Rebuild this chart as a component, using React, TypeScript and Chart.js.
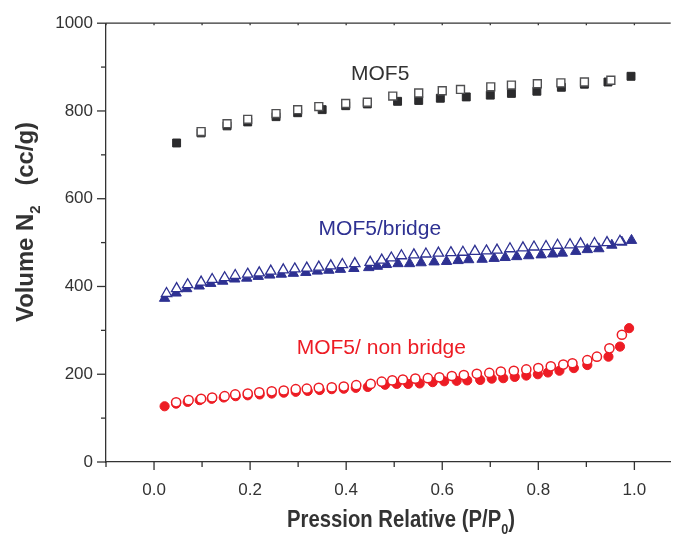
import React, { useEffect, useRef } from 'react';
import { Chart, registerables } from 'chart.js';

Chart.register(...registerables);

// ---- data ----
const mof5AdsX = [0.047, 0.098, 0.152, 0.195, 0.254, 0.299, 0.35, 0.399, 0.444, 0.507, 0.551, 0.596, 0.65, 0.70, 0.744, 0.797, 0.848, 0.896, 0.945, 0.993];
const mof5AdsY = [727, 750, 766, 775, 787, 796, 803, 812, 816, 822, 824, 829, 832, 836, 840, 845, 854, 861, 866, 879];
const mof5DesX = [0.098, 0.152, 0.195, 0.254, 0.299, 0.343, 0.399, 0.444, 0.497, 0.551, 0.60, 0.638, 0.701, 0.744, 0.798, 0.847, 0.896, 0.951];
const mof5DesY = [753, 771, 781, 794, 803, 810, 817, 820, 834, 841, 846, 849, 855, 859, 862, 864, 866, 870];

const bridgeAdsX = [0.022, 0.046, 0.068, 0.094, 0.118, 0.143, 0.168, 0.193, 0.217, 0.241, 0.265, 0.29, 0.316, 0.34, 0.364, 0.388, 0.416, 0.447, 0.465, 0.484, 0.508, 0.532, 0.556, 0.583, 0.609, 0.633, 0.655, 0.683, 0.708, 0.731, 0.755, 0.78, 0.806, 0.83, 0.85, 0.878, 0.902, 0.926, 0.953, 0.974, 0.994];
const bridgeAdsY = [373, 385, 395, 401, 407, 412, 417, 419, 423, 426, 428, 430, 432, 435, 437, 439, 441, 443, 446, 450, 452, 452, 454, 456, 457, 459, 461, 462, 464, 466, 468, 470, 472, 474, 476, 480, 484, 486, 494, 501, 505];
const bridgeDesX = [0.026, 0.047, 0.07, 0.098, 0.121, 0.147, 0.169, 0.195, 0.219, 0.243, 0.269, 0.293, 0.318, 0.343, 0.368, 0.392, 0.418, 0.45, 0.474, 0.494, 0.515, 0.541, 0.566, 0.592, 0.618, 0.643, 0.668, 0.692, 0.714, 0.741, 0.768, 0.791, 0.816, 0.84, 0.866, 0.888, 0.917, 0.943, 0.97];
const bridgeDesY = [384, 395, 404, 410, 416, 420, 425, 428, 431, 435, 438, 440, 442, 444, 447, 450, 452, 455, 460, 465, 470, 472, 474, 476, 477, 478, 480, 481, 483, 486, 488, 490, 491, 494, 495, 497, 498, 500, 503];

const nonAdsX = [0.022, 0.046, 0.07, 0.095, 0.12, 0.145, 0.17, 0.195, 0.22, 0.245, 0.27, 0.295, 0.32, 0.345, 0.37, 0.395, 0.42, 0.445, 0.481, 0.505, 0.529, 0.553, 0.58, 0.604, 0.63, 0.652, 0.679, 0.703, 0.727, 0.751, 0.775, 0.799, 0.82, 0.844, 0.874, 0.902, 0.946, 0.97, 0.989];
const nonAdsY = [127, 133, 137, 141, 144, 147, 150, 152, 154, 156, 158, 160, 162, 164, 166, 167, 169, 171, 176, 178, 178, 179, 182, 184, 185, 186, 187, 190, 191, 194, 197, 200, 204, 208, 214, 221, 240, 263, 305];
const nonDesX = [0.046, 0.072, 0.098, 0.121, 0.147, 0.169, 0.195, 0.219, 0.245, 0.27, 0.295, 0.318, 0.343, 0.37, 0.395, 0.421, 0.451, 0.474, 0.496, 0.518, 0.544, 0.57, 0.594, 0.62, 0.645, 0.672, 0.698, 0.722, 0.749, 0.775, 0.80, 0.826, 0.852, 0.871, 0.902, 0.922, 0.948, 0.974];
const nonDesY = [136, 141, 144, 147, 150, 154, 156, 159, 161, 163, 166, 167, 169, 170, 172, 175, 178, 183, 186, 188, 190, 191, 193, 196, 198, 201, 203, 206, 208, 211, 214, 218, 222, 225, 232, 240, 259, 290];

const xTickValues = [-0.1, 0, 0.1, 0.2, 0.3, 0.4, 0.5, 0.6, 0.7, 0.8, 0.9, 1.0];
const xTickLabels = ['', '0.0', '', '0.2', '', '0.4', '', '0.6', '', '0.8', '', '1.0'];
const yTickValues = [0, 100, 200, 300, 400, 500, 600, 700, 800, 900, 1000];
const yTickLabels = ['0', '', '200', '', '400', '', '600', '', '800', '', '1000'];

const seriesLabels = ['MOF5', 'MOF5/bridge', 'MOF5/ non bridge'];
const labelAnchorX = [0.41, 0.3425, 0.297];
const labelAnchorY = [871, 518, 247];

const xTitle = [['Pression Relative (P/P', false], ['0', true], [')', false]] as [string, boolean][];
const yTitle = [['Volume N', false], ['2', true], ['   (cc/g)', false]] as [string, boolean][];

const BLACK = '#2b2b2d';
const GRAY = '#505052';
const BLUE = '#2e3192';
const RED = '#ed1c24';
const AXIS = '#333333';

const toPts = (xs: number[], ys: number[]) => xs.map((x, i) => ({ x, y: ys[i] }));

const TITLE_FONT = '"Liberation Sans", Arial, sans-serif';

// draws a title with a subscript, squeezed horizontally to `width` (0 = natural width)
function drawRich(ctx: CanvasRenderingContext2D, parts: [string, boolean][], cx: number, baseline: number, size: number, width: number) {
  const main = `bold ${size}px ${TITLE_FONT}`;
  const sub = `bold ${Math.round(size * 0.62)}px ${TITLE_FONT}`;
  let total = 0;
  const widths = parts.map(([t, s]) => {
    ctx.font = s ? sub : main;
    const w = ctx.measureText(t).width;
    total += w;
    return w;
  });
  const k = width > 0 ? width / total : 1;
  ctx.save();
  ctx.translate(cx, baseline);
  ctx.scale(k, 1);
  let x = -total / 2;
  ctx.textAlign = 'left';
  ctx.textBaseline = 'alphabetic';
  parts.forEach(([t, s], i) => {
    ctx.font = s ? sub : main;
    ctx.fillText(t, x, s ? size * 0.3 : 0);
    x += widths[i];
  });
  ctx.restore();
}

const decorPlugin = {
  id: 'decor',
  afterDraw(chart: any) {
    const ctx: CanvasRenderingContext2D = chart.ctx;
    const xs = chart.scales.x;
    const ys = chart.scales.y;
    const area = chart.chartArea;
    ctx.save();
    ctx.strokeStyle = AXIS;
    ctx.lineWidth = 1.3;
    // top frame line
    ctx.beginPath();
    ctx.moveTo(area.left, area.top);
    ctx.lineTo(area.right, area.top);
    ctx.stroke();
    // x tick marks
    xTickValues.forEach((v, i) => {
      const px = xs.getPixelForValue(v);
      const len = xTickLabels[i] ? 8 : 5;
      ctx.beginPath();
      ctx.moveTo(px, area.bottom);
      ctx.lineTo(px, area.bottom + len);
      ctx.moveTo(px, area.top);
      ctx.lineTo(px, area.top + 2);
      ctx.stroke();
    });
    // y tick marks
    yTickValues.forEach((v, i) => {
      const py = ys.getPixelForValue(v);
      const len = yTickLabels[i] ? 9 : 5;
      ctx.beginPath();
      ctx.moveTo(area.left, py);
      ctx.lineTo(area.left - len, py);
      ctx.stroke();
    });
    // series labels
    const colors = [AXIS, BLUE, RED];
    ctx.font = '21px "Liberation Sans", Arial, sans-serif';
    ctx.textAlign = 'left';
    ctx.textBaseline = 'alphabetic';
    seriesLabels.forEach((t, i) => {
      ctx.fillStyle = colors[i];
      ctx.fillText(t, xs.getPixelForValue(labelAnchorX[i]), ys.getPixelForValue(labelAnchorY[i]));
    });
    // axis titles
    ctx.fillStyle = AXIS;
    drawRich(ctx, xTitle, 401, 527, 24, 228);
    ctx.translate(24, 222);
    ctx.rotate(-Math.PI / 2);
    drawRich(ctx, yTitle, 0, 9, 24, 200);
    ctx.restore();
  },
};

export default function App() {
  const ref = useRef<HTMLCanvasElement>(null);
  useEffect(() => {
    document.body.style.margin = '0';
    const canvas = ref.current!;
    const chart = new Chart(canvas, {
      type: 'scatter',
      data: {
        datasets: [
          { label: 'MOF5 des', data: toPts(mof5DesX, mof5DesY), pointStyle: 'rect', pointRadius: 5.6, pointBackgroundColor: '#ffffff', pointBorderColor: GRAY, pointBorderWidth: 1.4 },
          { label: 'MOF5 ads', data: toPts(mof5AdsX, mof5AdsY), pointStyle: 'rect', pointRadius: 5.6, pointBackgroundColor: BLACK, pointBorderColor: BLACK, pointBorderWidth: 1 },
          { label: 'bridge des', data: toPts(bridgeDesX, bridgeDesY), pointStyle: 'triangle', pointRadius: 6, pointBackgroundColor: '#ffffff', pointBorderColor: BLUE, pointBorderWidth: 1.3 },
          { label: 'bridge ads', data: toPts(bridgeAdsX, bridgeAdsY), pointStyle: 'triangle', pointRadius: 6, pointBackgroundColor: BLUE, pointBorderColor: BLUE, pointBorderWidth: 1 },
          { label: 'non des', data: toPts(nonDesX, nonDesY), pointStyle: 'circle', pointRadius: 4.6, pointBackgroundColor: '#ffffff', pointBorderColor: RED, pointBorderWidth: 1.5 },
          { label: 'non ads', data: toPts(nonAdsX, nonAdsY), pointStyle: 'circle', pointRadius: 4.6, pointBackgroundColor: RED, pointBorderColor: RED, pointBorderWidth: 1 },
        ],
      },
      options: {
        animation: false,
        responsive: false,
        layout: { padding: { top: 20, right: 0, left: 0, bottom: 0 } },
        plugins: { legend: { display: false }, tooltip: { enabled: false } },
        scales: {
          x: {
            type: 'linear',
            min: -0.1,
            max: 1.0756,
            afterBuildTicks: (s: any) => { s.ticks = xTickValues.map((v) => ({ value: v })); },
            afterFit: (s: any) => { s.height = 72; },
            grid: { display: false, drawTicks: false },
            border: { display: true, color: AXIS, width: 1.3 },
            ticks: {
              autoSkip: false,
              maxRotation: 0,
              padding: 18,
              color: AXIS,
              font: { family: '"Liberation Sans", Arial, sans-serif', size: 17 },
              callback: (_v: any, i: number) => xTickLabels[i],
            },
          },
          y: {
            type: 'linear',
            min: 0,
            max: 1000,
            afterBuildTicks: (s: any) => { s.ticks = yTickValues.map((v) => ({ value: v })); },
            afterFit: (s: any) => { s.width = 106; },
            grid: { display: false, drawTicks: false },
            border: { display: true, color: AXIS, width: 1.3 },
            ticks: {
              autoSkip: false,
              padding: 13,
              color: AXIS,
              font: { family: '"Liberation Sans", Arial, sans-serif', size: 17 },
              callback: (_v: any, i: number) => yTickLabels[i],
            },
          },
        },
      },
      plugins: [decorPlugin],
    });
    return () => chart.destroy();
  }, []);
  return <canvas ref={ref} width={678} height={534} style={{ display: 'block' }} />;
}
